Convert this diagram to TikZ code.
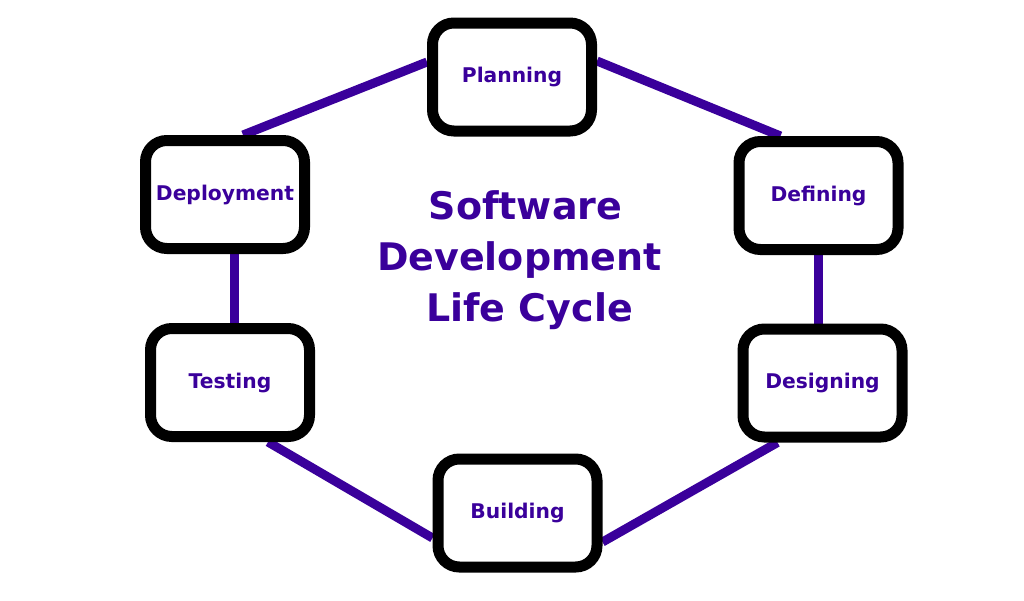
\documentclass[tikz,border=0pt]{standalone}
\usepackage{fontspec}
\setmainfont{DejaVu Sans}
\usetikzlibrary{backgrounds}
\definecolor{sdlcpurple}{RGB}{58,0,155}

\begin{document}
\begin{tikzpicture}[x=0.75pt, y=-0.75pt,
  phase/.style={draw=black, line width=8.25pt, rounded corners=16pt, fill=white,
    minimum width=119.25pt, minimum height=81pt, inner sep=0pt,
    text=sdlcpurple, font=\fontsize{15.2}{18}\selectfont\bfseries},
  link/.style={draw=sdlcpurple, line width=6.75pt}]
  \useasboundingbox (0,0) rectangle (1024,600);
  % phases, clockwise from the top
  \node[phase] (planning)   at (512,77)     {Planning};
  \node[phase] (defining)   at (818.5,195.5) {Defining};
  \node[phase] (designing)  at (822.5,383)  {Designing};
  \node[phase] (building)   at (517.5,513)  {Building};
  \node[phase] (testing)    at (230,382.5)  {Testing};
  \node[phase] (deployment) at (225,194.5)  {Deployment};
  % title in the middle
  \node[text=sdlcpurple, font=\fontsize{28.5}{38.25}\selectfont\bfseries, align=center]
    (title) at (519.5,260)
    {\hspace*{9pt}Software\\Development\\\hspace*{15pt}Life Cycle};
  % the ring, behind the boxes
  \begin{scope}[on background layer]
    \draw[link] ([yshift=12pt]planning.east) -- ([xshift=-28.5pt]defining.north);
    \draw[link] (defining.south) -- (defining.south |- designing.north);
    \draw[link] ([xshift=-33.75pt]designing.south) -- ([yshift=-21.75pt]building.east);
    \draw[link] ([yshift=-18.75pt]building.west) -- ([xshift=28.5pt]testing.south);
    \draw[link] ([xshift=6.75pt]deployment.south) -- ([xshift=6.75pt]deployment.south |- testing.north);
    \draw[link] ([xshift=13.5pt]deployment.north) -- ([yshift=11.25pt]planning.west);
  \end{scope}
\end{tikzpicture}
\end{document}
